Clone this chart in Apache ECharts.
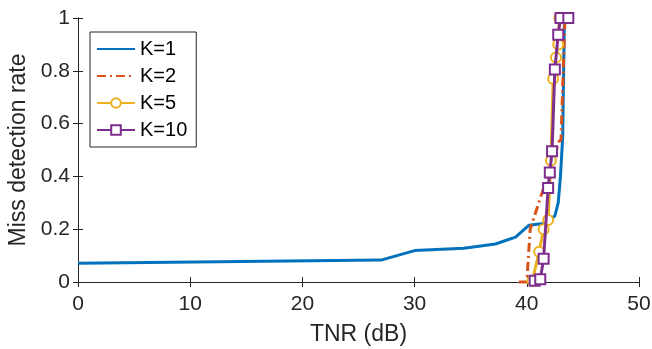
<!DOCTYPE html>
<html><head><meta charset="utf-8">
<script src="https://cdn.jsdelivr.net/npm/echarts@6/dist/echarts.min.js"></script>
<style>html,body{margin:0;padding:0;background:#fff}#c{width:652px;height:349px}</style>
</head><body><div id="c"></div>
<script>
const xTicks = [0, 10, 20, 30, 40, 50];
const yTicks = [0, 0.2, 0.4, 0.6, 0.8, 1];
const seriesNames = ['K=1', 'K=2', 'K=5', 'K=10'];
const k1x = [0, 27, 30, 34.4, 37.2, 39.0, 40.2, 41.5, 42.5, 42.8, 43.0, 43.2, 43.35];
const k1y = [0.071, 0.083, 0.119, 0.128, 0.144, 0.17, 0.215, 0.222, 0.25, 0.3, 0.4, 0.55, 1.0];
const k2x = [39.3, 40.0, 40.3, 41.3, 42.85, 43.05, 43.4];
const k2y = [0, 0, 0.2, 0.33, 0.53, 0.54, 1.0];
const k5x = [40.5, 41.1, 41.5, 41.9, 42.15, 42.35, 42.6, 42.8, 42.9];
const k5y = [0.005, 0.115, 0.2, 0.235, 0.46, 0.77, 0.85, 0.9, 1.0];
const k10x = [40.7, 41.2, 41.5, 41.9, 42.05, 42.25, 42.5, 42.8, 43.0, 43.7];
const k10y = [0.005, 0.01, 0.088, 0.356, 0.415, 0.495, 0.805, 0.937, 1.0, 1.0];

const pairs = (xs, ys) => xs.map((x, i) => [x, ys[i]]);
const colors = ['#0072BD', '#D95319', '#EDB120', '#7E2F8E'];
const font = 'Liberation Sans, Arial, sans-serif';
const chart = echarts.init(document.getElementById('c'));
const axisLine = {show: true, lineStyle: {color: '#262626', width: 1}};
const tick = {show: true, inside: true, length: 5, lineStyle: {color: '#262626'}};
const hiddenMarker = {opacity: 0, borderWidth: 0};
chart.setOption({
  animation: false,
  color: colors,
  grid: {left: 78, right: 13, top: 18, bottom: 67, containLabel: false, outerBoundsMode: 'none'},
  legend: {
    orient: 'vertical', left: 90, top: 32,
    data: [
      {name: seriesNames[0], itemStyle: hiddenMarker},
      {name: seriesNames[1], itemStyle: hiddenMarker},
      {name: seriesNames[2]},
      {name: seriesNames[3]}
    ],
    backgroundColor: '#fff', borderColor: '#262626', borderWidth: 1,
    padding: [7, 9, 7, 6], itemGap: 7, itemWidth: 38, itemHeight: 12,
    textStyle: {fontFamily: font, fontSize: 20, color: '#000', lineHeight: 20}
  },
  xAxis: [{
    type: 'value', min: 0, max: 50, interval: 10,
    name: 'TNR (dB)', nameLocation: 'middle', nameGap: 41,
    nameTextStyle: {fontFamily: font, fontSize: 23, color: '#262626'},
    axisLine, axisTick: tick,
    axisLabel: {fontFamily: font, fontSize: 21, color: '#262626', margin: 12,
      formatter: v => xTicks.includes(v) ? String(v) : ''},
    splitLine: {show: false}
  }, {
    type: 'value', min: 0, max: 50, interval: 10, position: 'top',
    axisLine, axisTick: tick, axisLabel: {show: false}, splitLine: {show: false}
  }],
  yAxis: [{
    type: 'value', min: 0, max: 1, interval: 0.2,
    name: 'Miss detection rate', nameLocation: 'middle', nameGap: 47,
    nameTextStyle: {fontFamily: font, fontSize: 23, color: '#262626'},
    axisLine, axisTick: tick,
    axisLabel: {fontFamily: font, fontSize: 21, color: '#262626', margin: 8,
      formatter: v => { const t = yTicks.find(y => Math.abs(y - v) < 1e-9); return t === undefined ? '' : String(t); }},
    splitLine: {show: false}
  }, {
    type: 'value', min: 0, max: 1, interval: 0.2, position: 'right',
    axisLine, axisTick: tick, axisLabel: {show: false}, splitLine: {show: false}
  }],
  series: [
    {name: seriesNames[0], type: 'line', data: pairs(k1x, k1y), symbol: 'none', clip: false,
     lineStyle: {width: 3, color: colors[0]}, itemStyle: {color: colors[0]}, z: 2},
    {name: seriesNames[1], type: 'line', data: pairs(k2x, k2y), symbol: 'none', clip: false,
     lineStyle: {width: 3, color: colors[1], type: [9, 4, 2, 4]}, itemStyle: {color: colors[1]}, z: 3},
    {name: seriesNames[2], type: 'line', data: pairs(k5x, k5y), symbol: 'emptyCircle', symbolSize: 10, clip: false,
     lineStyle: {width: 3, color: colors[2]}, itemStyle: {color: colors[2], borderWidth: 2.5}, z: 4},
    {name: seriesNames[3], type: 'line', data: pairs(k10x, k10y), symbol: 'emptyRect', symbolSize: 10, clip: false,
     lineStyle: {width: 3, color: colors[3]}, itemStyle: {color: colors[3], borderWidth: 3}, z: 5}
  ]
});
</script></body></html>
